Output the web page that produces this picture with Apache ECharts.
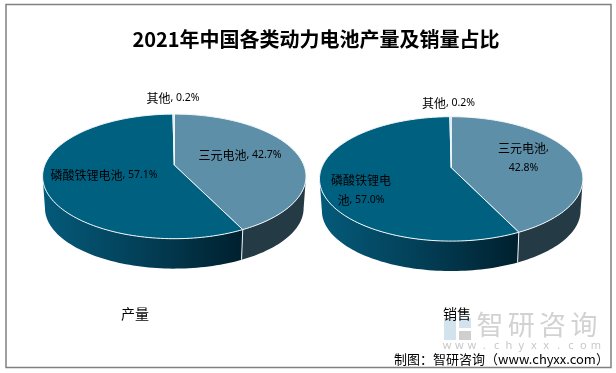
<!DOCTYPE html>
<html><head><meta charset="utf-8">
<style>html,body{margin:0;padding:0;background:#fff}#c{width:616px;height:373px}</style>
<script src="https://cdn.jsdelivr.net/npm/echarts@6/dist/echarts.min.js"></script>
</head><body><div id="c"></div>
<script>
const titleText = '2021年中国各类动力电池产量及销量占比';
const sliceNames = ['三元电池', '磷酸铁锂电池', '其他'];
const productionValues = [42.7, 57.1, 0.2];
const salesValues = [42.8, 57.0, 0.2];
const pieCaptions = ['产量', '销售'];
const sourceText = '制图：智研咨询（www.chyxx.com）';
const watermarkChars = ['智', '研', '咨', '询'];
const watermarkUrl = ['w', 'w', 'w', '.', 'c', 'h', 'y', 'x', 'x', '.', 'c', 'o', 'm'];

const topColors = ['#5d8fa8', '#006080', '#b9e0ee'];
const pies = [
  {values: productionValues, cx: 174.3, cy: 176.4, rx: 131.7, ry: 62.3, k: -0.181,
   labels: [[240, 155.5, 0], [104, 175, 0], [173, 98, 0]]},
  {values: salesValues, cx: 451.2, cy: 178.9, rx: 131.7, ry: 62.2, k: -0.181,
   labels: [[523.5, 158, 4], [361, 190.5, 5], [448.5, 103, 0]]}
];
const SHRINK_X = 0.982, SHRINK_Y = 0.97, DROP = 31.8;

function project(p, deg) {
  const t = deg * Math.PI / 180, u = Math.sin(t), v = -Math.cos(t);
  const d = 1 + p.k * v, a = p.rx * Math.sqrt(1 - p.k * p.k);
  return [a * u / d, (p.ry * v + p.ry * p.k) / d];
}
const topPt = (p, deg) => { const q = project(p, deg); return [p.cx + q[0], p.cy + q[1]]; };
const basePt = (p, deg) => { const q = project(p, deg); return [p.cx + q[0] * SHRINK_X, p.cy + q[1] * SHRINK_Y + DROP]; };
function arc(fn, p, a, b) {
  const out = [], n = Math.max(2, Math.ceil(Math.abs(b - a) / 1.5));
  for (let i = 0; i <= n; i++) out.push(fn(p, a + (b - a) * i / n));
  return out;
}
const FRONT_A = 100.4, FRONT_B = 259.6;

function wallFill(i) {
  if (i === 0) return '#243a44';
  return {type: 'linear', x: 0, y: 0, x2: 1, y2: 0, colorStops: [
    {offset: 0, color: '#045a7a'}, {offset: 0.5, color: '#033f57'}, {offset: 1, color: '#00202e'}]};
}
function labelRich(name, value, brk) {
  const tail = ', ' + value.toFixed(1) + '%';
  if (!brk) return '{a|' + name + '}{b|' + tail + '}';
  if (brk >= name.length) return '{a|' + name + '}{b|,}\n{b|' + value.toFixed(1) + '%}';
  return '{a|' + name.slice(0, brk) + '}\n{a|' + name.slice(brk) + '}{b|' + tail + '}';
}
const rich = {
  a: {fontFamily: '"Noto Sans CJK SC"', fontSize: 12, lineHeight: 20, fill: '#000', color: '#000'},
  b: {fontFamily: '"Noto Sans"', fontSize: 10.5, lineHeight: 20, fill: '#000', color: '#000'}
};

function makeSeries(p) {
  const total = p.values.reduce((s, v) => s + v, 0);
  return {
    type: 'custom', coordinateSystem: 'none', silent: true, clip: false,
    data: p.values.map((v, i) => [i, v]),
    renderItem(params, api) {
      const i = api.value(0);
      let start = 0;
      for (let j = 0; j < i; j++) start += p.values[j];
      const a = start / total * 360, b = (start + p.values[i]) / total * 360;
      const children = [];
      const f0 = Math.max(a, FRONT_A), f1 = Math.min(b, FRONT_B);
      if (f1 > f0) {
        children.push({type: 'polygon', z2: 1,
          shape: {points: arc(topPt, p, f0, f1).concat(arc(basePt, p, f1, f0))},
          style: {fill: wallFill(i)}});
        if (b < FRONT_B) children.push({type: 'line', z2: 2,
          shape: {x1: topPt(p, b)[0], y1: topPt(p, b)[1], x2: basePt(p, b)[0], y2: basePt(p, b)[1]},
          style: {stroke: '#eef4f6', lineWidth: 1}});
      }
      const apex = [p.cx, p.cy + p.ry * p.k];
      children.push({type: 'polygon', z2: 3,
        shape: {points: [apex].concat(arc(topPt, p, a, b))},
        style: {fill: topColors[i], stroke: '#f2f7f9', lineWidth: 1, lineJoin: 'round'}});
      const L = p.labels[i];
      children.push({type: 'text', z2: 6, x: L[0], y: L[1],
        style: {text: labelRich(sliceNames[i], p.values[i], L[2]), rich,
          align: 'center', verticalAlign: 'middle', textAlign: 'center', textVerticalAlign: 'middle'}});
      return {type: 'group', children};
    }
  };
}

const chart = echarts.init(document.getElementById('c'), null, {renderer: 'canvas'});
const txt = (x, y, text, style) => ({type: 'text', x, y, z: 1, style: Object.assign({text, fill: '#000', align: 'center', verticalAlign: 'middle',
  fontFamily: '"Noto Sans CJK SC"', fontSize: 12}, style)});
const MARK = '#cfcfcf', PALE = '#d3e3ee';
const poly = (points, fill) => ({type: 'polygon', z: 1, shape: {points}, style: {fill}});
chart.setOption({
  animation: false,
  backgroundColor: '#fff',
  title: {text: titleText, left: 311, top: 24, textAlign: 'center',
    textStyle: {fontFamily: '"Noto Sans CJK SC"', fontWeight: 'bold', fontSize: 20, color: '#000'}},
  graphic: [
    {type: 'rect', z: 0, shape: {x: 6, y: 4.5, width: 605, height: 363}, style: {fill: '#fff', stroke: '#808080', lineWidth: 1.5}},
    poly([[444, 318], [456, 318], [456, 340], [444, 340]], PALE),
    poly([[459, 318], [471, 318], [471, 328], [459, 328]], PALE),
    poly([[459, 331], [471, 331], [471, 340], [459, 340]], MARK),
    ...watermarkChars.map((c, i) => txt(490 + i * 31.3, 325, c, {fontSize: 27, fill: '#d2d2d2'})),
    ...watermarkUrl.map((c, i) => txt(447 + i * 12.4, 346, c, {fontSize: 11, fill: '#c8c8c8', fontFamily: '"Noto Sans"'})),
    {type: 'text', x: 135, y: 314, z: 3, style: {text: pieCaptions[0], fill: '#000', align: 'center', verticalAlign: 'middle', fontFamily: '"Noto Sans CJK SC"', fontSize: 14}},
    {type: 'text', x: 457, y: 314, z: 3, style: {text: pieCaptions[1], fill: '#000', align: 'center', verticalAlign: 'middle', fontFamily: '"Noto Sans CJK SC"', fontSize: 14}},
    {type: 'text', x: 501.5, y: 359, z: 3, style: {text: sourceText, fill: '#000', align: 'center', verticalAlign: 'middle', fontFamily: '"Noto Sans CJK SC"', fontSize: 13}}
  ],
  series: pies.map(makeSeries)
});
</script></body></html>
